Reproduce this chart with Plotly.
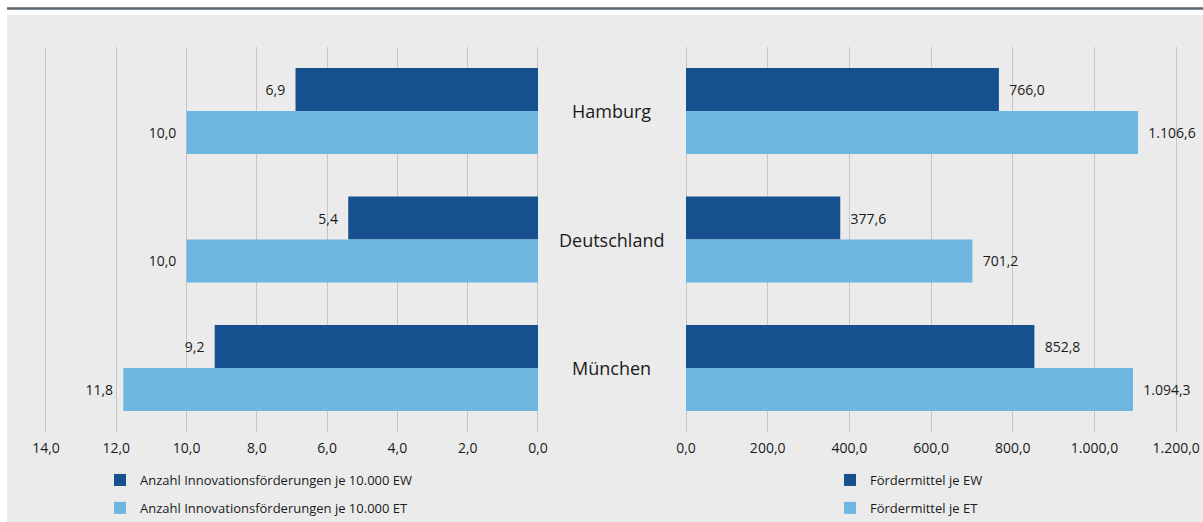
import plotly.graph_objects as go

W, H = 1203, 522

categories = ["Hamburg", "Deutschland", "München"]
anzahl_ew = [6.9, 5.4, 9.2]
anzahl_et = [10.0, 10.0, 11.8]
mittel_ew = [766.0, 377.6, 852.8]
mittel_et = [1106.6, 701.2, 1094.3]

name_anzahl_ew = "Anzahl Innovationsförderungen je 10.000 EW"
name_anzahl_et = "Anzahl Innovationsförderungen je 10.000 ET"
name_mittel_ew = "Fördermittel je EW"
name_mittel_et = "Fördermittel je ET"

left_ticks = [14, 12, 10, 8, 6, 4, 2, 0]
right_ticks = [0, 200, 400, 600, 800, 1000, 1200]

DARK = "#16508e"
LIGHT = "#6fb6e1"
BG = "#ebebeb"
GRID = "#c6c6c6"
FONT = "Open Sans"
NB = "\u00a0"

def px(x):
    return x / W

def py(y):
    return 1 - y / H

fig = go.Figure()

fig.add_trace(go.Bar(y=categories, x=anzahl_ew, orientation="h", name=name_anzahl_ew,
                     marker_color=DARK, xaxis="x", yaxis="y", legend="legend", legendgroup="a",
                     texttemplate="%{x:,.1f}" + NB * 2, textposition="outside", cliponaxis=False))
fig.add_trace(go.Bar(y=categories, x=anzahl_et, orientation="h", name=name_anzahl_et,
                     marker_color=LIGHT, xaxis="x", yaxis="y", legend="legend", legendgroup="b",
                     texttemplate="%{x:,.1f}" + NB * 2, textposition="outside", cliponaxis=False))
fig.add_trace(go.Bar(y=categories, x=mittel_ew, orientation="h", name=name_mittel_ew,
                     marker_color=DARK, xaxis="x2", yaxis="y2", legend="legend2", legendgroup="c",
                     texttemplate=NB * 2 + "%{x:,.1f}", textposition="outside", cliponaxis=False))
fig.add_trace(go.Bar(y=categories, x=mittel_et, orientation="h", name=name_mittel_et,
                     marker_color=LIGHT, xaxis="x2", yaxis="y2", legend="legend2", legendgroup="d",
                     texttemplate=NB * 2 + "%{x:,.1f}", textposition="outside", cliponaxis=False))

fig.update_traces(textfont=dict(size=14, color="#1a1a1a"), marker_line_width=0)

ydom = [py(432.25), py(46.75)]
axis_common = dict(showgrid=True, gridcolor=GRID, gridwidth=1, zeroline=True, zerolinecolor=GRID,
                   zerolinewidth=1, showline=False, ticks="", tickformat=",.1f",
                   tickfont=dict(size=14, color="#1a1a1a"), ticklabelstandoff=6, automargin=False)

# left axis: 35.14 px per unit, 0 at x=538 px; extend range slightly so the 14 gridline is drawn
LPX = 492 / 14
# right axis: 0.4085 px per unit, 0 at x=686 px
RPX = 490.2 / 1200

fig.update_layout(
    width=W, height=H,
    margin=dict(l=0, r=0, t=0, b=0, pad=0, autoexpand=False),
    paper_bgcolor="white", plot_bgcolor="rgba(0,0,0,0)",
    separators=",.",
    font=dict(family=FONT, size=14, color="#1a1a1a"),
    barmode="group", bargap=0.331, bargroupgap=0,
    xaxis=dict(domain=[px(538 - 14.15 * LPX), px(538)], range=[14.15, 0], tickvals=left_ticks,
               anchor="y", **axis_common),
    xaxis2=dict(domain=[px(686), px(686 + 1212 * RPX)], range=[0, 1212], tickvals=right_ticks,
                anchor="y2", **axis_common),
    yaxis=dict(domain=ydom, range=[2.5, -0.5], showticklabels=False, showgrid=False, zeroline=False, anchor="x"),
    yaxis2=dict(domain=ydom, range=[2.5, -0.5], showticklabels=False, showgrid=False, zeroline=False, anchor="x2"),
    legend=dict(x=px(100), y=py(465), xanchor="left", yanchor="top", orientation="v",
                bgcolor="rgba(0,0,0,0)", font=dict(size=13, color="#1a1a1a"),
                traceorder="grouped", tracegroupgap=8, itemwidth=30),
    legend2=dict(x=px(830), y=py(465), xanchor="left", yanchor="top", orientation="v",
                 bgcolor="rgba(0,0,0,0)", font=dict(size=13, color="#1a1a1a"),
                 traceorder="grouped", tracegroupgap=8, itemwidth=30),
    showlegend=True,
)

# background panel and top rule
fig.add_shape(type="rect", xref="paper", yref="paper", x0=px(7), x1=1, y0=0, y1=py(15),
              fillcolor=BG, line_width=0, layer="below")
fig.add_shape(type="line", xref="paper", yref="paper", x0=px(7), x1=1, y0=py(8.5), y1=py(8.5),
              line=dict(color="#5c6770", width=2.5), layer="above")

# category labels in the middle
for c in categories:
    fig.add_annotation(x=px(611), xref="paper", y=c, yref="y", text=c, showarrow=False,
                       font=dict(size=18, color="#1a1a1a"), xanchor="center", yanchor="middle")

fig.write_html("out.html")
